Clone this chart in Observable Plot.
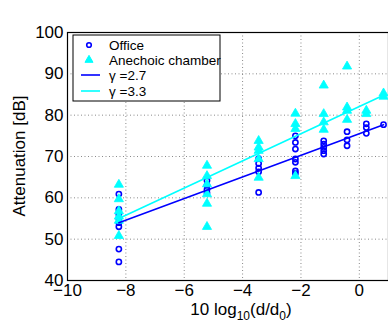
<!DOCTYPE html>
<html>
<head>
<meta charset="utf-8">
<script src="https://cdn.jsdelivr.net/npm/d3@7"></script>
<script src="https://cdn.jsdelivr.net/npm/@observablehq/plot@0.6"></script>
<style>
  html, body { margin: 0; padding: 0; background: #fff; }
  svg { display: block; font-family: "Liberation Sans", Arial, sans-serif; }
</style>
</head>
<body>
<div id="chart"></div>
<script>
// Distance columns (10 log10(d/d0))
const officeX = [
  -8.24,-8.24,-8.24,-8.24,-8.24,-8.24,-8.24,-8.24,
  -5.22,-5.22,-5.22,-5.22,
  -3.45,-3.45,-3.45,-3.45,-3.45,
  -2.19,-2.19,-2.19,-2.19,-2.19,-2.19,-2.19,
  -1.22,-1.22,-1.22,-1.22,-1.22,
  -0.42,-0.42,-0.42,
  0.24,0.24,0.24,
  0.83
];
const officeY = [
  60.9,57.2,56.0,55.0,54.0,53.0,47.6,44.5,
  64.2,63.0,62.0,61.2,
  69.5,68.3,67.2,66.3,61.3,
  75.0,73.4,71.8,69.4,68.6,66.5,65.9,
  73.8,73.0,72.2,71.4,70.6,
  76.0,74.0,72.6,
  77.9,77.0,75.6,
  77.7
];
const anechoicX = [
  -8.24,-8.24,-8.24,-8.24,-8.24,-8.24,
  -5.22,-5.22,-5.22,-5.22,-5.22,-5.22,
  -3.45,-3.45,-3.45,-3.45,-3.45,
  -2.19,-2.19,-2.19,-2.19,
  -1.22,-1.22,-1.22,-1.22,
  -0.42,-0.42,-0.42,-0.42,
  0.24,0.24,
  0.83,0.83
];
const anechoicY = [
  63.2,59.7,56.8,55.5,54.5,50.8,
  67.8,65.3,63.3,60.9,58.6,53.0,
  73.8,72.2,71.4,69.4,64.9,
  80.4,77.9,76.7,65.3,
  87.2,80.3,78.3,76.5,
  91.8,81.9,81.1,78.9,
  81.1,80.3,
  85.3,84.5
];
// Fitted path-loss lines
const fitX = [-8.24, 0.83];
const fitOfficeY = [54.0, 77.7];     // gamma = 2.7
const fitAnechoicY = [55.0, 84.8];   // gamma = 3.3

const xTicks = [-10, -8, -6, -4, -2, 0];
const yTicks = [40, 50, 60, 70, 80, 90, 100];
const xGrid = [-8, -6, -4, -2, 0];
const yGrid = [50, 60, 70, 80, 90];
const legendLabels = ["Office", "Anechoic chamber", "\u03B3 =2.7", "\u03B3 =3.3"];

const office = officeX.map((x, i) => ({x, y: officeY[i]}));
const anechoic = anechoicX.map((x, i) => ({x, y: anechoicY[i]}));
const fitO = fitX.map((x, i) => ({x, y: fitOfficeY[i]}));
const fitA = fitX.map((x, i) => ({x, y: fitAnechoicY[i]}));

const BLUE = "#0000ff", CYAN = "#00ffff";

const chart = Plot.plot({
  width: 388,
  height: 325,
  marginLeft: 67,
  marginRight: 0,
  marginTop: 32,
  marginBottom: 45,
  style: {fontFamily: "Liberation Sans, Arial, sans-serif", fontSize: "17px", background: "#fff", color: "#000"},
  x: {type: "linear", domain: [-10, 1]},
  y: {type: "linear", domain: [40, 100]},
  marks: [
    Plot.ruleX(xGrid, {x: d => d, stroke: "#8a8a8a", strokeDasharray: "1 2.5", strokeWidth: 1}),
    Plot.ruleY(yGrid, {y: d => d, stroke: "#8a8a8a", strokeDasharray: "1 2.5", strokeWidth: 1}),
    Plot.frame({stroke: "#000", strokeWidth: 1.2}),
    Plot.axisX({ticks: xTicks, tickSize: 0, tickPadding: 3, fontSize: 17, label: null}),
    Plot.axisY({ticks: yTicks, tickSize: 0, tickPadding: 4, fontSize: 17, label: null}),
    Plot.dot(office, {x: "x", y: "y", r: 2.6, stroke: BLUE, strokeWidth: 1.6, fill: "none"}),
    Plot.dot(anechoic, {x: "x", y: "y", r: 3.4, symbol: "triangle", fill: CYAN, stroke: CYAN, strokeWidth: 0.8}),
    Plot.line(fitO, {x: "x", y: "y", stroke: BLUE, strokeWidth: 1.6}),
    Plot.line(fitA, {x: "x", y: "y", stroke: CYAN, strokeWidth: 1.6})
  ]
});

const svg = d3.select(chart);

// Axis titles
svg.append("text")
  .attr("transform", "translate(25,156) rotate(-90)")
  .attr("text-anchor", "middle")
  .attr("font-size", 17)
  .text("Attenuation [dB]");

const xl = svg.append("text")
  .attr("x", 241).attr("y", 315)
  .attr("text-anchor", "middle")
  .attr("font-size", 17);
xl.append("tspan").text("10 log");
xl.append("tspan").attr("font-size", 12).attr("dy", 5).text("10");
xl.append("tspan").attr("dy", -5).text("(d/d");
xl.append("tspan").attr("font-size", 12).attr("dy", 5).text("0");
xl.append("tspan").attr("dy", -5).text(")");

// Legend
const lg = svg.append("g").attr("transform", "translate(73,35)");
lg.append("rect").attr("width", 147).attr("height", 66)
  .attr("fill", "#fff").attr("stroke", "#000").attr("stroke-width", 1);
const rows = [10, 25, 40, 56];
lg.append("circle").attr("cx", 16).attr("cy", rows[0]).attr("r", 2.3)
  .attr("fill", "none").attr("stroke", BLUE).attr("stroke-width", 1.6);
lg.append("path").attr("d", d3.symbol(d3.symbolTriangle, 28)())
  .attr("transform", `translate(16,${rows[1]})`).attr("fill", CYAN).attr("stroke", CYAN);
lg.append("line").attr("x1", 8).attr("x2", 27).attr("y1", rows[2]).attr("y2", rows[2])
  .attr("stroke", BLUE).attr("stroke-width", 1.6);
lg.append("line").attr("x1", 8).attr("x2", 27).attr("y1", rows[3]).attr("y2", rows[3])
  .attr("stroke", CYAN).attr("stroke-width", 1.6);
legendLabels.forEach((t, i) => {
  lg.append("text").attr("x", 36).attr("y", rows[i]).attr("dy", "0.35em")
    .attr("text-anchor", "start")
    .attr("font-size", 13.5).text(t);
});

document.getElementById("chart").appendChild(chart);
</script>
</body>
</html>
